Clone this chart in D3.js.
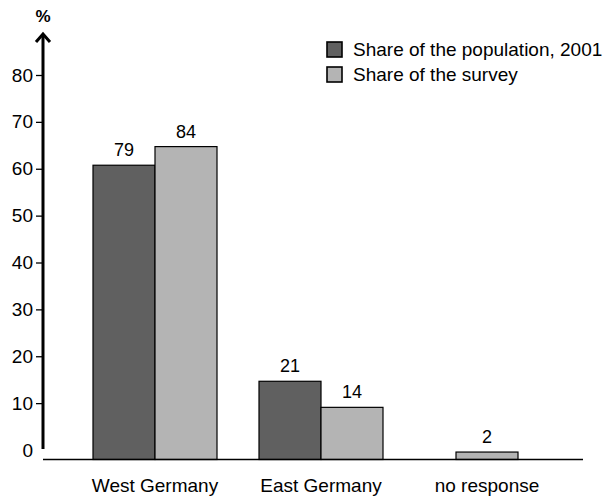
<!DOCTYPE html>
<html>
<head>
<meta charset="utf-8">
<script src="https://cdn.jsdelivr.net/npm/d3@7"></script>
<style>
  html, body { margin: 0; padding: 0; background: #fff; }
  svg text { font-family: "Liberation Sans", Arial, sans-serif; fill: #000; }
</style>
</head>
<body>
<svg id="chart" width="608" height="499"></svg>
<script>
// Regional composition: population vs. survey respondents (percent)
const categories = ["West Germany", "East Germany", "no response"];
const seriesNames = ["Share of the population, 2001", "Share of the survey"];
const populationShare = [79, 21, null];
const surveyShare = [84, 14, 2];
const axisTicks = [0, 10, 20, 30, 40, 50, 60, 70, 80];

const colors = ["#606060", "#b4b4b4"];
const svg = d3.select("#chart");

// Scale used by the printed axis
const yAxisScale = d3.scaleLinear().domain([0, 80]).range([450, 75]);
// Scale the bars are drawn with
const yBar = d3.scaleLinear().domain([0, 100]).range([459.5, 87]);

const xGroup = d3.scalePoint().domain(categories).range([155, 487]);
const xSeries = d3.scaleBand().domain([0, 1]).range([-62, 62]);

// Bars
const bars = [];
categories.forEach((c, i) => {
  const vals = [populationShare[i], surveyShare[i]];
  const present = vals.map((v, s) => ({ v, s })).filter(d => d.v != null);
  present.forEach(d => {
    const x0 = present.length === 1
      ? xGroup(c) - xSeries.bandwidth() / 2
      : xGroup(c) + xSeries(d.s);
    bars.push({ cat: c, s: d.s, v: d.v, x: x0 });
  });
});

svg.append("g").selectAll("rect").data(bars).join("rect")
  .attr("x", d => d.x)
  .attr("y", d => yBar(d.v))
  .attr("width", xSeries.bandwidth())
  .attr("height", d => yBar(0) - yBar(d.v))
  .attr("fill", d => colors[d.s])
  .attr("stroke", "#000")
  .attr("stroke-width", 1.2);

svg.append("g").selectAll("text").data(bars).join("text")
  .attr("x", d => d.x + xSeries.bandwidth() / 2)
  .attr("y", d => yBar(d.v) - 9)
  .attr("text-anchor", "middle")
  .attr("font-size", 18)
  .text(d => d.v);

// Baseline
svg.append("line")
  .attr("x1", 43).attr("x2", 583)
  .attr("y1", yBar(0)).attr("y2", yBar(0))
  .attr("stroke", "#000").attr("stroke-width", 1.3);

// Y axis with arrow
const axis = svg.append("g")
  .attr("transform", "translate(43,0)")
  .call(d3.axisLeft(yAxisScale).tickValues(axisTicks).tickSize(7).tickPadding(3).tickFormat(d3.format("d")));
axis.select(".domain").remove();
axis.selectAll(".tick line").attr("stroke", "#000").attr("stroke-width", 1.3)
  .filter(d => d === 0).remove();
axis.selectAll(".tick text")
  .attr("font-size", 19)
  .attr("font-family", "Liberation Sans, Arial, sans-serif")
  .attr("fill", "#000");

svg.append("line")
  .attr("x1", 43).attr("x2", 43)
  .attr("y1", 449).attr("y2", 34)
  .attr("stroke", "#000").attr("stroke-width", 3);
svg.append("polyline")
  .attr("points", "36,42 43,34 50,42")
  .attr("fill", "none").attr("stroke", "#000").attr("stroke-width", 3)
  .attr("stroke-linejoin", "miter");
svg.append("text")
  .attr("x", 43).attr("y", 22)
  .attr("text-anchor", "middle")
  .attr("font-size", 17).attr("font-weight", "bold")
  .text("%");

// Category labels
svg.append("g").selectAll("text").data(categories).join("text")
  .attr("x", d => xGroup(d))
  .attr("y", 492)
  .attr("text-anchor", "middle")
  .attr("font-size", 19)
  .text(d => d);

// Legend
const legend = svg.append("g").selectAll("g").data(seriesNames).join("g")
  .attr("transform", (d, i) => `translate(327,${42 + i * 25})`);
legend.append("rect")
  .attr("width", 15).attr("height", 15)
  .attr("fill", (d, i) => colors[i])
  .attr("stroke", "#000").attr("stroke-width", 1.6);
legend.append("text")
  .attr("x", 26).attr("y", 14)
  .attr("font-size", 19)
  .text(d => d);
</script>
</body>
</html>
